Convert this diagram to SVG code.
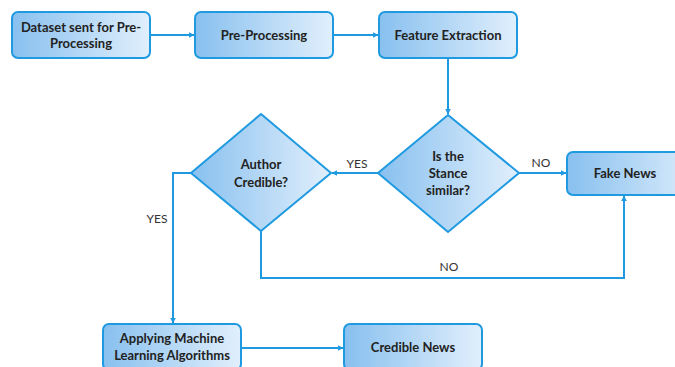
<svg xmlns="http://www.w3.org/2000/svg" width="675" height="367" viewBox="0 0 675 367">
  <defs>
    <linearGradient id="fillGrad" x1="0" y1="0" x2="1" y2="0">
      <stop offset="0" stop-color="#88c0ef"/>
      <stop offset="1" stop-color="#e1effc"/>
    </linearGradient>
    <marker id="arrow" viewBox="0 0 10 10" refX="9" refY="5" markerWidth="6" markerHeight="6" markerUnits="userSpaceOnUse" orient="auto">
      <path d="M0,0 L10,5 L0,10 z" fill="#1f9ae0"/>
    </marker>
    <style>
      .box { fill: url(#fillGrad); stroke: #1f9ae0; stroke-width: 2; }
      .lbl { font-family: Lato, "Liberation Sans", sans-serif; font-weight: bold; font-size: 13px; fill: #222; text-anchor: middle; }
      .edge { fill: none; stroke: #1f9ae0; stroke-width: 2; }
      .elbl { font-family: Lato, "Liberation Sans", sans-serif; font-size: 12px; fill: #333; text-anchor: middle; }
    </style>
  </defs>
  <rect width="675" height="367" fill="#ffffff"/>

  <g id="connectors">
    <line class="edge" x1="150" y1="35" x2="194" y2="35" marker-end="url(#arrow)"/>
    <line class="edge" x1="333" y1="35" x2="378" y2="35" marker-end="url(#arrow)"/>
    <line class="edge" x1="448" y1="58" x2="448" y2="114" marker-end="url(#arrow)"/>
    <line class="edge" x1="378" y1="173" x2="332" y2="173" marker-end="url(#arrow)"/>
    <text class="elbl" x="357" y="168">YES</text>
    <line class="edge" x1="519" y1="173" x2="566" y2="173" marker-end="url(#arrow)"/>
    <text class="elbl" x="541" y="167">NO</text>
    <polyline class="edge" points="191,173 173,173 173,323" marker-end="url(#arrow)"/>
    <text class="elbl" x="157" y="223">YES</text>
    <polyline class="edge" points="261,231 261,278 624,278 624,196" marker-end="url(#arrow)"/>
    <text class="elbl" x="449" y="271">NO</text>
    <line class="edge" x1="241" y1="348" x2="343" y2="348" marker-end="url(#arrow)"/>
  </g>

  <g id="dataset">
    <rect class="box" x="12" y="12" width="138" height="46" rx="6"/>
    <text class="lbl" x="81" y="32">Dataset sent for Pre-</text>
    <text class="lbl" x="81" y="48">Processing</text>
  </g>
  <g id="preprocessing">
    <rect class="box" x="195" y="12" width="138" height="46" rx="6"/>
    <text class="lbl" x="264" y="40">Pre-Processing</text>
  </g>
  <g id="feature-extraction">
    <rect class="box" x="379" y="12" width="138" height="46" rx="6"/>
    <text class="lbl" x="448" y="40">Feature Extraction</text>
  </g>
  <g id="stance-similar">
    <polygon class="box" points="448,115 519,173 448,232 378,173"/>
    <text class="lbl" x="448" y="161">Is the</text>
    <text class="lbl" x="448" y="178">Stance</text>
    <text class="lbl" x="448" y="195">similar?</text>
  </g>
  <g id="author-credible">
    <polygon class="box" points="261,114 331,173 261,231 191,173"/>
    <text class="lbl" x="261" y="169">Author</text>
    <text class="lbl" x="261" y="187">Credible?</text>
  </g>
  <g id="fake-news">
    <rect class="box" x="567" y="152" width="138" height="43" rx="6"/>
    <text class="lbl" x="625" y="178">Fake News</text>
  </g>
  <g id="apply-ml">
    <rect class="box" x="103" y="324" width="138" height="46" rx="6"/>
    <text class="lbl" x="172" y="343">Applying Machine</text>
    <text class="lbl" x="172" y="360">Learning Algorithms</text>
  </g>
  <g id="credible-news">
    <rect class="box" x="344" y="324" width="138" height="46" rx="6"/>
    <text class="lbl" x="413" y="352">Credible News</text>
  </g>
</svg>
